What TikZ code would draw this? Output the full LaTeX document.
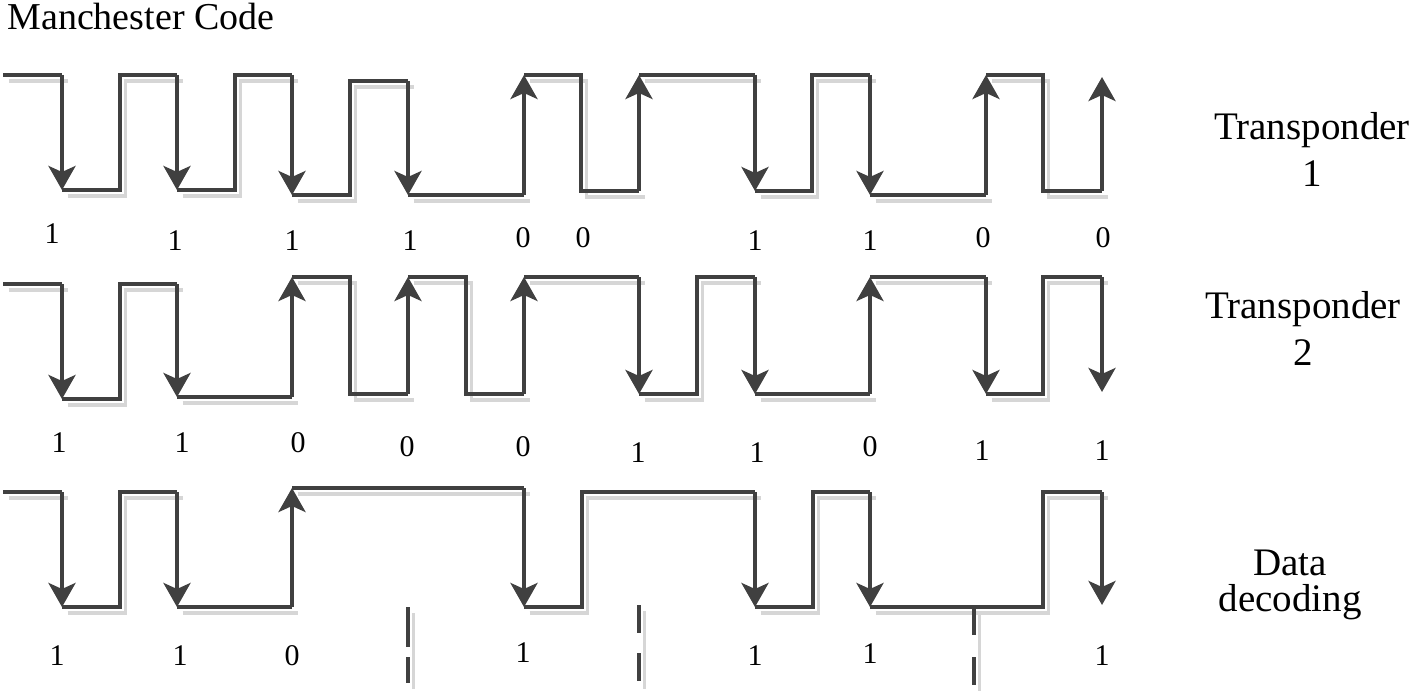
\documentclass[tikz,border=0pt]{standalone}
\usepackage{fontspec}
\setmainfont{Liberation Serif}
\usetikzlibrary{arrows.meta}

\definecolor{wavegray}{HTML}{404040}
\definecolor{shadowgray}{HTML}{D6D6D6}

\begin{document}
\begin{tikzpicture}[
  x=0.5pt, y=-0.5pt,
  wave/.style={
    line width=2pt,
    draw=wavegray,
    preaction={draw=shadowgray, line width=1.6pt,
      transform canvas={shift={(2.8pt,-3pt)}}}
  },
  bitarrow/.style={
    line width=2pt,
    draw=wavegray,
    -{Stealth[length=12pt, width=13.5pt, inset=3pt]}
  },
  bit/.style={inner sep=0pt, anchor=base, font=\fontsize{15}{18}\selectfont},
  side/.style={inner sep=0pt, anchor=base, align=center,
    font=\fontsize{19.5}{23.5}\selectfont}
]
\useasboundingbox (0,0) rectangle (1418,695);

\node[inner sep=0pt, anchor=base west, font=\fontsize{19}{23}\selectfont]
  (title) at (7,30) {Manchester Code};

% transponder 1
\draw[wave] (3,75) -- (62,75);
\draw[bitarrow] (62,75) -- (62,190);
\draw[wave] (62,190) -- (120,190) -- (120,75) -- (177,75);
\draw[bitarrow] (177,75) -- (177,190);
\draw[wave] (177,190) -- (235,190) -- (235,75) -- (292,75);
\draw[bitarrow] (292,75) -- (292,195);
\draw[wave] (292,195) -- (350,195) -- (350,81) -- (408,81);
\draw[bitarrow] (408,81) -- (408,195);
\draw[wave] (408,195) -- (524,195);
\draw[bitarrow] (524,195) -- (524,75);
\draw[wave] (524,75) -- (581,75) -- (581,191) -- (639,191);
\draw[bitarrow] (639,191) -- (639,75);
\draw[wave] (639,75) -- (755,75);
\draw[bitarrow] (755,75) -- (755,191);
\draw[wave] (755,191) -- (812,191) -- (812,75) -- (870,75);
\draw[bitarrow] (870,75) -- (870,195);
\draw[wave] (870,195) -- (986,195);
\draw[bitarrow] (986,195) -- (986,75);
\draw[wave] (986,75) -- (1043,75) -- (1043,191) -- (1102,191);
\draw[bitarrow] (1102,191) -- (1102,77);

\node[bit] (a1) at (52,243) {1};
\node[bit] (a2) at (175,250) {1};
\node[bit] (a3) at (292,250) {1};
\node[bit] (a4) at (410,250) {1};
\node[bit] (a5) at (523,248) {0};
\node[bit] (a6) at (583,248) {0};
\node[bit] (a7) at (755,250) {1};
\node[bit] (a8) at (870,250) {1};
\node[bit] (a9) at (983,248) {0};
\node[bit] (a10) at (1103,248) {0};

\node[side] (tr1) at (1312,187) {Transponder\\1};

% transponder 2
\draw[wave] (3,284) -- (62,284);
\draw[bitarrow] (62,284) -- (62,399);
\draw[wave] (62,399) -- (120,399) -- (120,284) -- (177,284);
\draw[bitarrow] (177,284) -- (177,397);
\draw[wave] (177,397) -- (292,397);
\draw[bitarrow] (292,397) -- (292,277);
\draw[wave] (292,277) -- (350,277) -- (350,394) -- (408,394);
\draw[bitarrow] (408,394) -- (408,277);
\draw[wave] (408,277) -- (466,277) -- (466,394) -- (524,394);
\draw[bitarrow] (524,394) -- (524,277);
\draw[wave] (524,277) -- (639,277);
\draw[bitarrow] (639,277) -- (639,394);
\draw[wave] (639,394) -- (697,394) -- (697,277) -- (755,277);
\draw[bitarrow] (755,277) -- (755,394);
\draw[wave] (755,394) -- (870,394);
\draw[bitarrow] (870,394) -- (870,277);
\draw[wave] (870,277) -- (986,277);
\draw[bitarrow] (986,277) -- (986,394);
\draw[wave] (986,394) -- (1043,394) -- (1043,277) -- (1102,277);
\draw[bitarrow] (1102,277) -- (1102,392);

\node[bit] (b1) at (59,452) {1};
\node[bit] (b2) at (182,452) {1};
\node[bit] (b3) at (298,452) {0};
\node[bit] (b4) at (407,456) {0};
\node[bit] (b5) at (523,456) {0};
\node[bit] (b6) at (638,462) {1};
\node[bit] (b7) at (757,462) {1};
\node[bit] (b8) at (870,456) {0};
\node[bit] (b9) at (982,460) {1};
\node[bit] (b10) at (1102,460) {1};

\node[side] (tr2) at (1303,365) {Transponder\\2};

% decoded data
\draw[wave] (3,492) -- (62,492);
\draw[bitarrow] (62,492) -- (62,607);
\draw[wave] (62,607) -- (120,607) -- (120,492) -- (177,492);
\draw[bitarrow] (177,492) -- (177,607);
\draw[wave] (177,607) -- (292,607);
\draw[bitarrow] (292,607) -- (292,488);
\draw[wave] (292,488) -- (524,488);
\draw[bitarrow] (524,488) -- (524,607);
\draw[wave] (524,607) -- (582,607) -- (582,492) -- (755,492);
\draw[bitarrow] (755,492) -- (755,607);
\draw[wave] (755,607) -- (813,607) -- (813,492) -- (870,492);
\draw[bitarrow] (870,492) -- (870,607);
\draw[wave] (870,607) -- (1043,607) -- (1043,492) -- (1102,492);
\draw[bitarrow] (1102,492) -- (1102,605);

% collisions
\draw[wave, dash pattern=on 20pt off 5pt] (408,607) -- (408,683);
\draw[wave, dash pattern=on 14pt off 10pt] (639,605) -- (639,683);
\draw[wave, dash pattern=on 14pt off 11pt] (974,607) -- (974,685);

\node[bit] (c1) at (57,665) {1};
\node[bit] (c2) at (180,665) {1};
\node[bit] (c3) at (292,665) {0};
\node[bit] (c4) at (523,662) {1};
\node[bit] (c5) at (755,665) {1};
\node[bit] (c6) at (870,663) {1};
\node[bit] (c7) at (1102,665) {1};

\node[side, font=\fontsize{19.5}{18}\selectfont] (dec) at (1290,611) {Data\\decoding};
\end{tikzpicture}
\end{document}
